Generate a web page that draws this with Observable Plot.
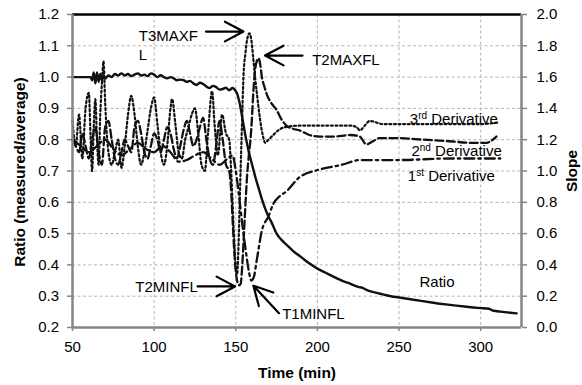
<!DOCTYPE html>
<html><head><meta charset="utf-8">
<script src="https://cdn.jsdelivr.net/npm/d3@7"></script>
<script src="https://cdn.jsdelivr.net/npm/@observablehq/plot@0.6"></script>
<style>body{margin:0;background:#fff;}</style>
</head><body><div id="chart"></div>
<script>
// ---- Data ----
// Ratio (measured/average) on the left axis
const ratioTime = [50,60,61,62,63,64,65,66,67,68,69,70,72,74,76,78,80,82,84,86,88,90,92,94,96,98,100,102,104,106,108,110,112,114,116,118,120,122,124,126,128,130,132,134,136,138,140,142,144,146,148,150,151,152,153,154,155,156,157,158,159,160,161,162,164,166,168,170,172,175,178,181,185,190,195,200,205,210,215,220,225,228,230,235,240,245,250,260,270,280,290,300,305,307,310,315,322];
const ratioValue = [1.0,1.0,1.0,0.99,1.015,0.98,1.015,0.985,1.01,0.99,1.005,0.995,1.005,1.0,1.01,1.005,1.012,1.005,1.01,1.003,1.008,1.012,1.005,1.008,1.003,1.012,1.008,1.0,1.006,1.0,0.996,1.0,0.996,0.99,0.992,0.99,0.985,0.988,0.98,0.975,0.982,0.978,0.97,0.965,0.972,0.968,0.96,0.962,0.966,0.958,0.965,0.955,0.945,0.925,0.9,0.87,0.84,0.81,0.785,0.76,0.74,0.72,0.70,0.68,0.645,0.61,0.58,0.555,0.535,0.50,0.48,0.465,0.445,0.425,0.405,0.388,0.375,0.362,0.35,0.34,0.33,0.326,0.32,0.312,0.306,0.30,0.296,0.288,0.28,0.273,0.267,0.262,0.26,0.255,0.252,0.249,0.245];

// Derivatives, in units of the right axis (Slope)
const d3Time = [50,52,54,56,58,60,61,62,63,64,65,66,67,68,69,70,71,72,74,76,78,80,82,84,86,88,90,92,94,96,98,100,102,104,106,108,110,111,113,115,117,119,121,123,125,127,129,131,133,135.5,137,139,141.6,144,146,147,148,149,150,150.8,151.6,152.5,153.7,154.7,156,156.8,158.4,159.5,160.8,162,163,164,165,166.5,168,170,172,176,180,190,200,210,220,224,226,229,232,240,260,280,300,311];
const d3Slope = [1.32,1.16,1.36,1.08,1.40,1.50,1.24,1.00,1.28,1.46,1.20,1.04,1.36,1.56,1.70,1.44,1.24,1.12,1.04,1.12,1.20,1.02,1.16,1.36,1.48,1.36,1.16,1.04,1.12,1.26,1.40,1.47,1.30,1.12,1.04,1.16,1.40,1.46,1.30,1.12,1.08,1.20,1.28,1.36,1.40,1.24,1.04,1.00,1.24,1.51,1.30,1.10,1.36,1.24,1.20,1.04,0.80,0.56,0.38,0.34,0.50,0.84,1.26,1.60,1.76,1.83,1.88,1.84,1.71,1.58,1.49,1.40,1.32,1.23,1.18,1.20,1.22,1.26,1.28,1.29,1.29,1.29,1.29,1.28,1.26,1.29,1.32,1.30,1.30,1.30,1.30,1.31];

const d2Time = [50,52,54,56,58,60,62,64,66,68,70,72,74,76,78,80,82,84,86,88,90,92,94,96,98,100,102,104,106,108,110,112,114,116,118,120,122,124,126,128,130,132,134,136,138,140,142,144,146,147,148,149,150,151,152,153,154,155,156,157,158,159,159.8,160.8,162,163.9,165,166,167.5,169,172,175,178,181,185,189,195,201.6,210,220,226,230,234,238,250,265,281,295,303.5,306,309.6];
const d2Slope = [1.20,1.16,1.12,1.24,1.16,1.08,1.20,1.28,1.12,1.04,1.28,1.32,1.20,1.08,1.04,1.12,1.20,1.16,1.12,1.28,1.32,1.24,1.12,1.08,1.16,1.24,1.20,1.12,1.20,1.28,1.24,1.14,1.08,1.16,1.26,1.32,1.24,1.16,1.20,1.28,1.34,1.20,1.08,1.04,1.16,1.32,1.20,1.04,1.00,0.90,0.70,0.50,0.36,0.29,0.27,0.28,0.40,0.60,0.80,0.98,1.10,1.20,1.32,1.51,1.66,1.72,1.68,1.60,1.54,1.49,1.43,1.39,1.33,1.29,1.27,1.26,1.23,1.22,1.22,1.23,1.22,1.17,1.19,1.21,1.21,1.20,1.19,1.18,1.18,1.19,1.22];

const d1Time = [50,55,60,65,70,75,80,85,90,95,100,105,110,115,120,125,130,135,140,145,148,150,152,154,156,158,159.5,161,163,166,170,173,177,181,189,201.6,215,226,250,281,312];
const d1Slope = [1.20,1.16,1.12,1.16,1.20,1.14,1.10,1.14,1.18,1.14,1.12,1.16,1.12,1.06,1.07,1.10,1.12,1.08,1.04,1.08,1.10,1.00,0.84,0.66,0.50,0.36,0.30,0.32,0.44,0.62,0.71,0.79,0.84,0.87,0.96,1.01,1.04,1.07,1.07,1.08,1.08];

// Ticks
const xTicks = [50,100,150,200,250,300];
const ratioTicks = [0.2,0.3,0.4,0.5,0.6,0.7,0.8,0.9,1.0,1.1,1.2];

// Annotations
const labelText = ["T3MAXF\nL","T2MAXFL","T2MINFL","T1MINFL","3rd Derivative","2nd Derivative","1st Derivative","Ratio"];
const labelTime = [90.6,196.8,126.7,178.4,256.6,257.6,255.4,262.5];
const labelRatio = [1.1584,1.0545,0.3273,0.2422,0.8658,0.7644,0.6845,0.3433];
const arrowTime = [154.7,167.9,149.6,160.8];
const arrowRatio = [1.1456,1.0689,0.3311,0.3334];
const arrowAngle = [90,-90,90,-43];

// ---- Build ----
const toY = s => 0.2 + s / 2;           // slope axis (0–2) shares the frame with ratio axis (0.2–1.2)
const rows = (ts, vs) => ts.map((t, i) => ({t, v: vs[i]}));
const labels = labelText.map((text, i) => ({text, t: labelTime[i], r: labelRatio[i]}));
const arrows = arrowTime.map((t, i) => ({t, r: arrowRatio[i], angle: arrowAngle[i]}));

const arrowShape = {
  draw(ctx, l) {
    const w = 21, a = 28 * Math.PI / 180;
    ctx.moveTo(0, 0); ctx.lineTo(0, -l);
    ctx.moveTo(-w * Math.sin(a), -l + w * Math.cos(a));
    ctx.lineTo(0, -l);
    ctx.lineTo(w * Math.sin(a), -l + w * Math.cos(a));
  }
};

const FONT = "'Liberation Sans', Arial, sans-serif";
const gridStyle = {stroke: "#b4b4b4", strokeOpacity: 1, strokeWidth: 1, strokeDasharray: "3,2.5"};
const axisGray = "#868686";

const svg = Plot.plot({
  width: 582, height: 385,
  marginLeft: 72, marginRight: 61, marginTop: 14, marginBottom: 58,
  style: {fontFamily: FONT, fontSize: "15px", background: "#fff", color: "#000"},
  x: {domain: [50, 325], label: null},
  y: {domain: [0.2, 1.2], label: null},
  marks: [
    Plot.gridX(xTicks.filter(d => d > 50), gridStyle),
    Plot.gridY(ratioTicks.filter(d => d > 0.2 && d < 1.2), gridStyle),
    Plot.axisY(ratioTicks, {anchor: "left", tickSize: 5, tickPadding: 8.5, tickFormat: d => d.toFixed(1),
      stroke: axisGray, strokeWidth: 1.5, fill: "#000", fontSize: 15, label: null}),
    Plot.axisY(ratioTicks, {anchor: "right", tickSize: 5, tickPadding: 10, tickFormat: d => ((d - 0.2) * 2).toFixed(1),
      stroke: axisGray, strokeWidth: 1.5, fill: "#000", fontSize: 15, label: null}),
    Plot.axisX(xTicks, {anchor: "bottom", tickSize: 4, tickPadding: 10, tickFormat: d => String(d),
      stroke: axisGray, strokeWidth: 1.5, fill: "#000", fontSize: 15, label: null}),
    // series
    Plot.line(rows(d1Time, d1Slope), {x: "t", y: d => toY(d.v), stroke: "#111", strokeWidth: 2.3,
      strokeDasharray: "10,4,2.5,4", curve: "monotone-x"}),
    Plot.line(rows(d2Time, d2Slope), {x: "t", y: d => toY(d.v), stroke: "#111", strokeWidth: 2.3,
      strokeDasharray: "8,3.5", curve: "monotone-x"}),
    Plot.line(rows(d3Time, d3Slope), {x: "t", y: d => toY(d.v), stroke: "#111", strokeWidth: 2.2,
      strokeDasharray: "2,2.6", curve: "monotone-x"}),
    Plot.line(rows(ratioTime, ratioValue), {x: "t", y: "v", stroke: "#111", strokeWidth: 2.4, curve: "monotone-x"}),
    // frame
    Plot.ruleY([1.2], {stroke: "#000", strokeWidth: 2.5}),
    Plot.ruleY([0.2], {stroke: axisGray, strokeWidth: 2.5}),
    Plot.ruleX([50], {stroke: axisGray, strokeWidth: 2.5}),
    Plot.ruleX([325], {stroke: axisGray, strokeWidth: 2.5}),
    // annotations
    Plot.vector(arrows, {x: "t", y: "r", rotate: "angle", length: 37.5, anchor: "end", shape: arrowShape,
      stroke: "#000", strokeWidth: 2.2}),
    Plot.text(labels.filter((d, i) => i === 0), {x: "t", y: "r", text: "text", textAnchor: "start",
      lineAnchor: "top", lineHeight: 1.27, fontSize: 15, fill: "#000"}),
    Plot.text(labels.filter((d, i) => i === 2), {x: "t", y: "r", text: "text", textAnchor: "end",
      fontSize: 15, fill: "#000"}),
    Plot.text(labels.filter((d, i) => i !== 0 && i !== 2), {x: "t", y: "r", text: "text", textAnchor: "start",
      fontSize: 15, fill: "#000"}),
    // axis titles
    Plot.text(["Time (min)"], {text: d => d, frameAnchor: "bottom", dy: 45.5, textAnchor: "middle", lineAnchor: "middle",
      fontWeight: "bold", fontSize: 15.5, fill: "#000"}),
    Plot.text(["Ratio (measured/average)"], {text: d => d, frameAnchor: "left", dx: -52, dy: 1, rotate: -90,
      textAnchor: "middle", lineAnchor: "middle", fontWeight: "bold", fontSize: 15.5, fill: "#000"}),
    Plot.text(["Slope"], {text: d => d, frameAnchor: "right", dx: 51, rotate: -90,
      textAnchor: "middle", lineAnchor: "middle", fontWeight: "bold", fontSize: 15.5, fill: "#000"})
  ]
});

// superscript ordinal suffixes (3rd, 2nd, 1st)
const NS = "http://www.w3.org/2000/svg";
svg.querySelectorAll("text").forEach(el => {
  if (el.children.length) return;
  const m = el.textContent.match(/^(\d)(st|nd|rd|th) (.+)$/);
  if (!m) return;
  el.textContent = "";
  const a = document.createElementNS(NS, "tspan"); a.textContent = m[1];
  const b = document.createElementNS(NS, "tspan"); b.textContent = m[2];
  b.setAttribute("font-size", "10"); b.setAttribute("dy", "-5");
  const c = document.createElementNS(NS, "tspan"); c.textContent = " " + m[3]; c.setAttribute("dy", "5");
  el.append(a, b, c);
});

document.getElementById("chart").append(svg);
</script>
</body></html>
